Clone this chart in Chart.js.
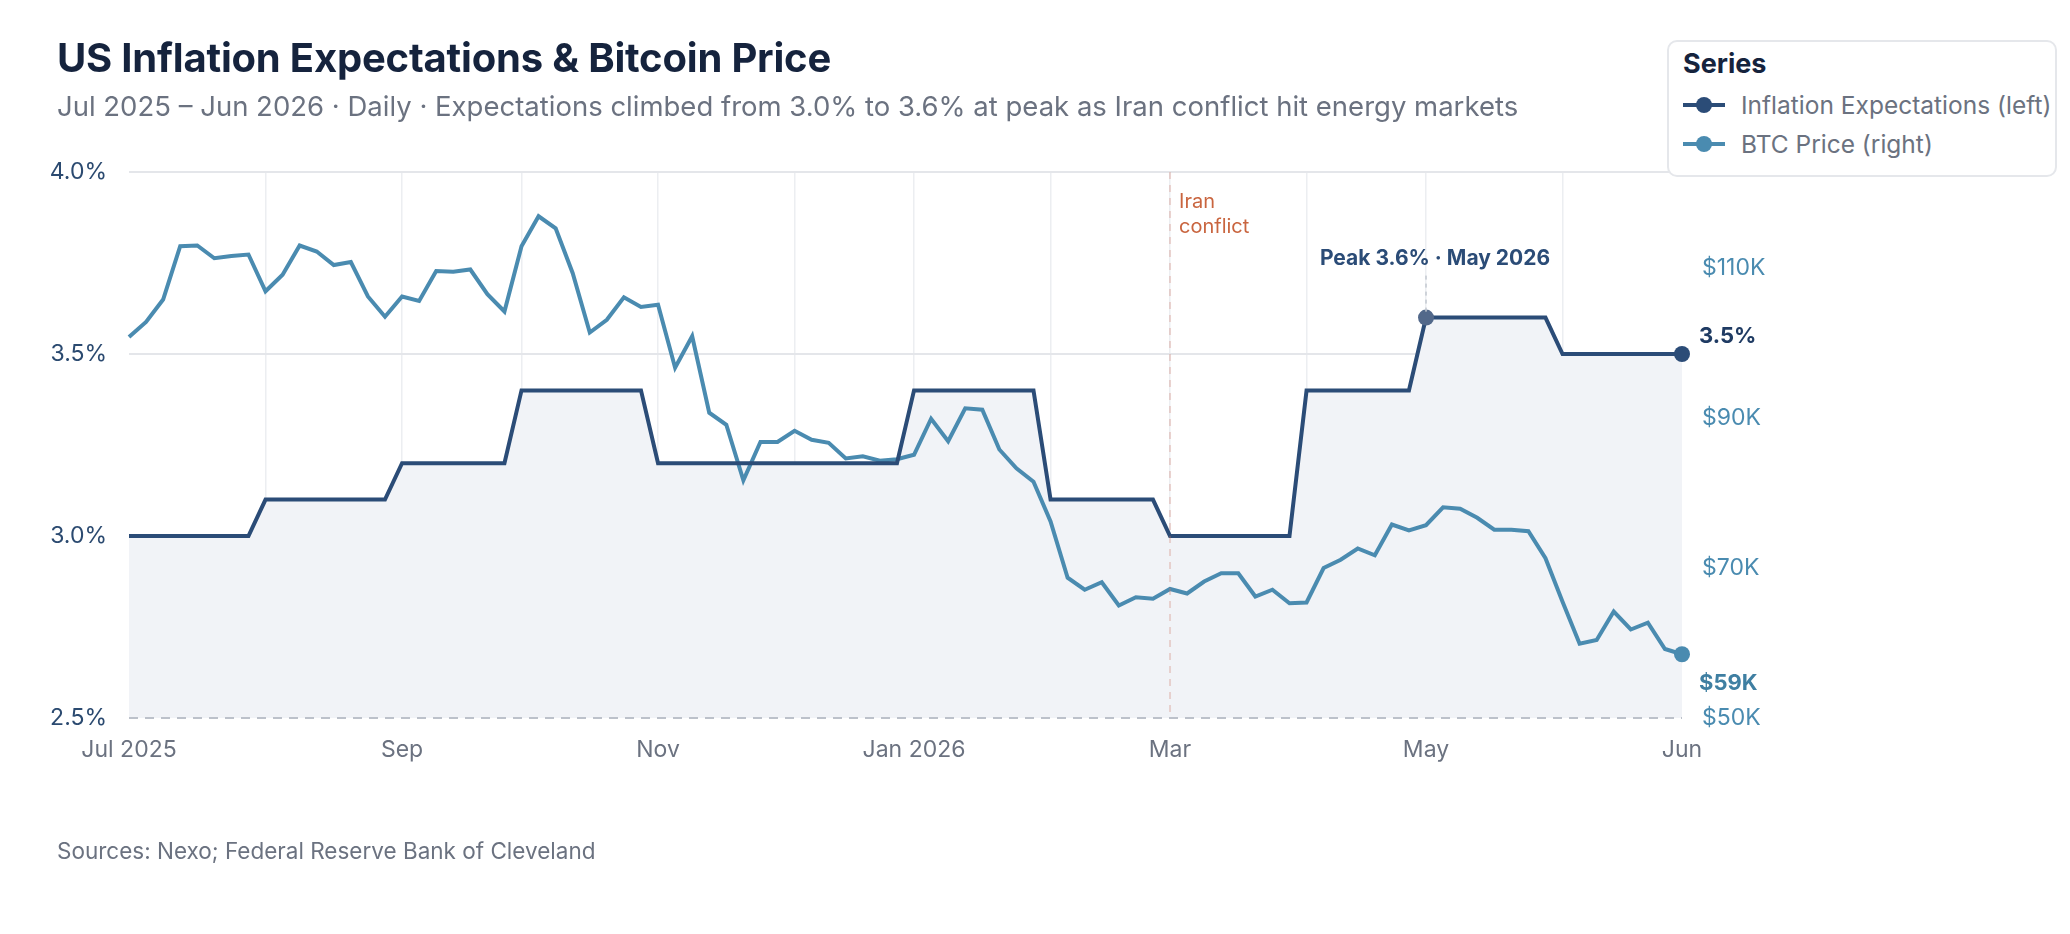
<!DOCTYPE html>
<html>
<head>
<meta charset="utf-8">
<title>US Inflation Expectations & Bitcoin Price</title>
<script src="https://cdn.jsdelivr.net/npm/chart.js@4.4.1/dist/chart.umd.min.js"></script>
<style>
  body { margin: 0; background: #fff; font-family: Inter, "Noto Sans", sans-serif; }
  #wrap { position: relative; width: 2070px; height: 934px; overflow: hidden; }
  #chart { position: absolute; left: 0; top: 0; }
  #title { position: absolute; left: 57px; top: 38px; font-size: 40px; line-height: 40px; font-weight: 700; color: #15233d; letter-spacing: -0.2px; white-space: nowrap; }
  #subtitle { position: absolute; left: 57px; top: 92px; font-size: 27.5px; line-height: 28px; color: #6b7280; white-space: nowrap; }
  #source { position: absolute; left: 57px; top: 840px; font-size: 22.5px; line-height: 22px; color: #6b7280; white-space: nowrap; }
  #legend { position: absolute; left: 1667px; top: 40px; width: 390px; height: 137px; border: 2px solid #e5e7eb; border-radius: 10px; background: #fff; box-sizing: border-box; }
  #legend .head { position: absolute; left: 14px; top: 7px; font-size: 27px; line-height: 30px; font-weight: 700; color: #15233d; }
  #legend .row { position: absolute; left: 14px; height: 36px; display: flex; align-items: center; font-size: 24.5px; color: #6b7280; white-space: nowrap; }
  #legend .swatch { position: relative; width: 42px; height: 36px; margin-right: 16px; }
  #legend .swatch i { position: absolute; left: 0; top: 16px; width: 42px; height: 4px; }
  #legend .swatch b { position: absolute; left: 13px; top: 10px; width: 16px; height: 16px; border-radius: 50%; }
</style>
</head>
<body>
<div id="wrap">
  <canvas id="chart" width="2070" height="934"></canvas>
  <div id="title">US Inflation Expectations &amp; Bitcoin Price</div>
  <div id="subtitle">Jul 2025 – Jun 2026 · Daily · Expectations climbed from 3.0% to 3.6% at peak as Iran conflict hit energy markets</div>
  <div id="legend"><div class="head">Series</div></div>
  <div id="source">Sources: Nexo; Federal Reserve Bank of Cleveland</div>
</div>
<script>
// one point every 4 days, Jul 2025 - Jun 2026
var dates = [
  '2025-07-01','2025-07-05','2025-07-09','2025-07-13','2025-07-17','2025-07-21','2025-07-25','2025-07-29',
  '2025-08-02','2025-08-06','2025-08-10','2025-08-14','2025-08-18','2025-08-22','2025-08-26','2025-08-30',
  '2025-09-03','2025-09-07','2025-09-11','2025-09-15','2025-09-19','2025-09-23','2025-09-27',
  '2025-10-01','2025-10-05','2025-10-09','2025-10-13','2025-10-17','2025-10-21','2025-10-25','2025-10-29',
  '2025-11-02','2025-11-06','2025-11-10','2025-11-14','2025-11-18','2025-11-22','2025-11-26','2025-11-30',
  '2025-12-04','2025-12-08','2025-12-12','2025-12-16','2025-12-20','2025-12-24','2025-12-28',
  '2026-01-01','2026-01-05','2026-01-09','2026-01-13','2026-01-17','2026-01-21','2026-01-25','2026-01-29',
  '2026-02-02','2026-02-06','2026-02-10','2026-02-14','2026-02-18','2026-02-22','2026-02-26',
  '2026-03-02','2026-03-06','2026-03-10','2026-03-14','2026-03-18','2026-03-22','2026-03-26','2026-03-30',
  '2026-04-03','2026-04-07','2026-04-11','2026-04-15','2026-04-19','2026-04-23','2026-04-27',
  '2026-05-01','2026-05-05','2026-05-09','2026-05-13','2026-05-17','2026-05-21','2026-05-25','2026-05-29',
  '2026-06-02','2026-06-06','2026-06-10','2026-06-14','2026-06-18','2026-06-22','2026-06-26','2026-06-30'
];

// 1-yr inflation expectations, %
var inflation = [
  3.0,3.0,3.0,3.0,3.0,3.0,3.0,3.0,
  3.1,3.1,3.1,3.1,3.1,3.1,3.1,3.1,
  3.2,3.2,3.2,3.2,3.2,3.2,3.2,
  3.4,3.4,3.4,3.4,3.4,3.4,3.4,3.4,
  3.2,3.2,3.2,3.2,3.2,3.2,3.2,3.2,
  3.2,3.2,3.2,3.2,3.2,3.2,3.2,
  3.4,3.4,3.4,3.4,3.4,3.4,3.4,3.4,
  3.1,3.1,3.1,3.1,3.1,3.1,3.1,
  3.0,3.0,3.0,3.0,3.0,3.0,3.0,3.0,
  3.4,3.4,3.4,3.4,3.4,3.4,3.4,
  3.6,3.6,3.6,3.6,3.6,3.6,3.6,3.6,
  3.5,3.5,3.5,3.5,3.5,3.5,3.5,3.5
];

// BTC price, thousands of USD
var btcPrice = [
  100.8,102.8,105.8,112.9,113.0,111.3,111.6,111.8,
  106.9,109.1,113.0,112.2,110.4,110.8,106.2,103.5,
  106.2,105.6,109.6,109.5,109.8,106.5,104.2,
  112.9,116.9,115.3,109.3,101.4,103.1,106.1,104.8,
  105.1,96.7,100.9,90.7,89.1,81.7,86.8,86.8,
  88.3,87.1,86.7,84.6,84.9,84.3,84.5,
  85.1,89.9,86.9,91.3,91.1,85.8,83.3,81.5,
  76.2,68.7,67.1,68.1,65.0,66.1,65.9,
  67.2,66.6,68.2,69.3,69.3,66.2,67.1,65.3,
  65.4,70.0,71.1,72.6,71.7,75.8,75.0,
  75.7,78.1,77.9,76.7,75.1,75.1,74.9,71.3,
  65.5,59.9,60.4,64.2,61.8,62.7,59.2,58.5
];

// x ticks: first point of each month, plus the last point
var tickIdx  = [0, 8, 16, 23, 31, 39, 46, 54, 61, 69, 76, 84, 91];
var tickText = ['Jul 2025', '', 'Sep', '', 'Nov', '', 'Jan 2026', '', 'Mar', '', 'May', '', 'Jun'];
var pctTicks = [2.5, 3.0, 3.5, 4.0];
var btcTicks = [50, 70, 90, 110];
var conflictIdx = 61;

var NAVY = '#2b4c77';
var TEAL = '#4a8bb0';
var lastIdx = dates.length - 1;
var peakIdx = inflation.indexOf(Math.max.apply(null, inflation));
var monthNames = ['Jan','Feb','Mar','Apr','May','Jun','Jul','Aug','Sep','Oct','Nov','Dec'];

Chart.defaults.font.family = 'Inter, "Noto Sans", sans-serif';
Chart.defaults.font.size = 23;

var notes = {
  id: 'notes',
  afterDatasetsDraw: function(chart) {
    var ctx = chart.ctx, area = chart.chartArea;
    var x = chart.scales.x, y = chart.scales.y, y1 = chart.scales.y1;
    ctx.save();

    // dashed baseline
    ctx.strokeStyle = '#bcc1ca';
    ctx.lineWidth = 2;
    ctx.setLineDash([9, 7]);
    ctx.beginPath(); ctx.moveTo(area.left, area.bottom); ctx.lineTo(area.right, area.bottom); ctx.stroke();

    // Iran conflict marker
    var cx = x.getPixelForValue(conflictIdx);
    ctx.strokeStyle = 'rgba(200,120,100,0.28)';
    ctx.setLineDash([7, 6]);
    ctx.beginPath(); ctx.moveTo(cx, area.top); ctx.lineTo(cx, area.bottom); ctx.stroke();
    ctx.setLineDash([]);
    ctx.fillStyle = '#c9653f';
    ctx.font = '20px Inter, sans-serif';
    ctx.textAlign = 'left'; ctx.textBaseline = 'middle';
    ctx.fillText('Iran', cx + 9, area.top + 30);
    ctx.fillText('conflict', cx + 9, area.top + 55);

    // peak label
    var px = x.getPixelForValue(peakIdx), py = y.getPixelForValue(inflation[peakIdx]);
    ctx.strokeStyle = '#c3c8d0';
    ctx.lineWidth = 1.5;
    ctx.setLineDash([4, 4]);
    ctx.beginPath(); ctx.moveTo(px, py - 6); ctx.lineTo(px, py - 44); ctx.stroke();
    ctx.setLineDash([]);
    var d = dates[peakIdx].split('-');
    ctx.fillStyle = NAVY;
    ctx.font = '700 21px Inter, sans-serif';
    ctx.textAlign = 'center';
    ctx.fillText('Peak ' + inflation[peakIdx].toFixed(1) + '% · ' + monthNames[+d[1] - 1] + ' ' + d[0], px + 9, py - 59);

    // end labels
    ctx.textAlign = 'left';
    ctx.font = '700 22px Inter, sans-serif';
    ctx.fillStyle = '#1f3b63';
    ctx.fillText(inflation[lastIdx].toFixed(1) + '%', area.right + 17, y.getPixelForValue(inflation[lastIdx]) - 18);
    ctx.fillStyle = '#3f7fa2';
    ctx.fillText('$' + Math.round(btcPrice[lastIdx]) + 'K', area.right + 17, y1.getPixelForValue(btcPrice[lastIdx]) + 29);
    ctx.restore();
  }
};

var chart = new Chart(document.getElementById('chart'), {
  type: 'line',
  data: {
    labels: dates,
    datasets: [
      {
        label: 'Inflation Expectations (left)',
        data: inflation,
        yAxisID: 'y',
        borderColor: NAVY,
        borderWidth: 4,
        backgroundColor: '#f1f3f7',
        fill: 'start',
        tension: 0,
        pointRadius: function(c) { return (c.dataIndex === peakIdx || c.dataIndex === lastIdx) ? 8 : 0; },
        pointBackgroundColor: function(c) { return c.dataIndex === peakIdx ? '#52688a' : NAVY; },
        pointBorderWidth: 0
      },
      {
        label: 'BTC Price (right)',
        data: btcPrice,
        yAxisID: 'y1',
        borderColor: TEAL,
        backgroundColor: TEAL,
        borderWidth: 4,
        fill: false,
        tension: 0,
        pointRadius: function(c) { return c.dataIndex === lastIdx ? 8 : 0; },
        pointBackgroundColor: TEAL,
        pointBorderWidth: 0
      }
    ]
  },
  options: {
    responsive: false,
    devicePixelRatio: 1,
    animation: false,
    layout: { padding: { left: 0, top: 172, right: 288, bottom: 156 } },
    plugins: {
      legend: { display: false },
      tooltip: { enabled: false },
      filler: { drawTime: 'beforeDatasetsDraw' }
    },
    scales: {
      x: {
        type: 'category',
        offset: false,
        afterBuildTicks: function(axis) { axis.ticks = tickIdx.map(function(v) { return { value: v }; }); },
        afterFit: function(axis) { axis.height = 60; },
        ticks: {
          autoSkip: false,
          maxRotation: 0,
          padding: 18,
          color: '#6b7280',
          callback: function(v) { return tickText[tickIdx.indexOf(v)]; }
        },
        grid: {
          drawTicks: false,
          lineWidth: 1.5,
          color: function(c) { return (c.tick && (c.tick.value === 0 || c.tick.value === lastIdx)) ? 'rgba(0,0,0,0)' : '#eceef1'; }
        },
        border: { display: false }
      },
      y: {
        position: 'left',
        min: 2.5,
        max: 4.0,
        afterBuildTicks: function(axis) { axis.ticks = pctTicks.map(function(v) { return { value: v }; }); },
        afterFit: function(axis) { axis.width = 129; },
        ticks: {
          padding: 22,
          color: '#2b4a70',
          callback: function(v) { return v.toFixed(1) + '%'; }
        },
        grid: {
          drawTicks: false,
          lineWidth: 2,
          color: function(c) { return (c.tick && c.tick.value === 2.5) ? 'rgba(0,0,0,0)' : '#e4e6ea'; }
        },
        border: { display: false }
      },
      y1: {
        position: 'right',
        min: 50,
        max: 122.8,
        afterBuildTicks: function(axis) { axis.ticks = btcTicks.map(function(v) { return { value: v }; }); },
        afterFit: function(axis) { axis.width = 100; },
        ticks: {
          padding: 20,
          color: TEAL,
          callback: function(v) { return '$' + v + 'K'; }
        },
        grid: { display: false, drawTicks: false },
        border: { display: false }
      }
    }
  },
  plugins: [notes]
});

// legend from the datasets
var legend = document.getElementById('legend');
chart.data.datasets.forEach(function(ds, i) {
  var row = document.createElement('div');
  row.className = 'row';
  row.style.top = (45 + i * 39) + 'px';
  row.innerHTML = '<span class="swatch"><i style="background:' + ds.borderColor + '"></i><b style="background:' + ds.borderColor + '"></b></span>' + ds.label;
  legend.appendChild(row);
});
</script>
</body>
</html>
